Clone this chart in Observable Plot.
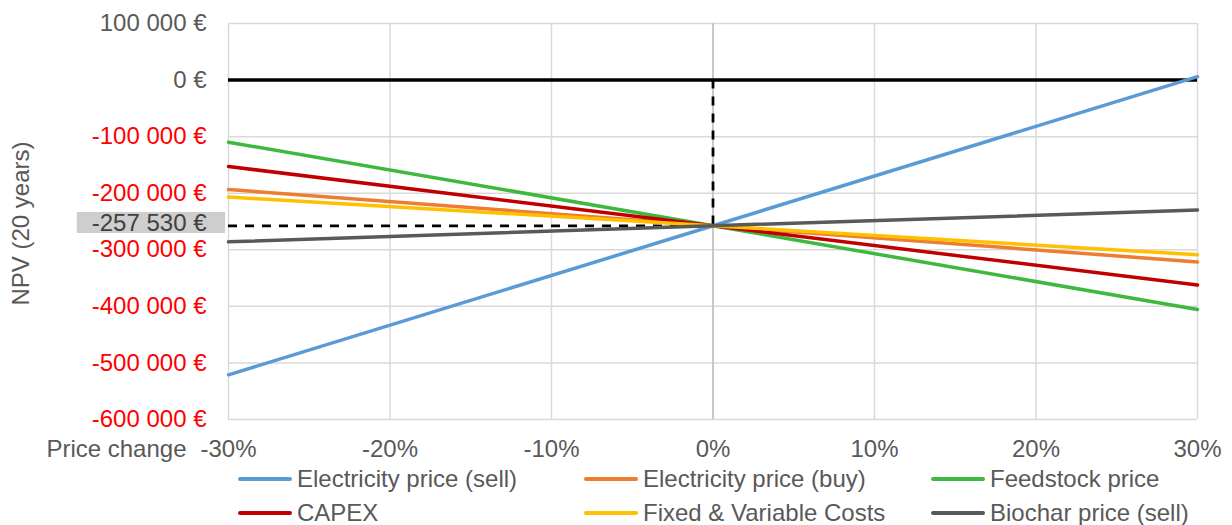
<!DOCTYPE html>
<html>
<head>
<meta charset="utf-8">
<script src="https://cdn.jsdelivr.net/npm/d3@7"></script>
<script src="https://cdn.jsdelivr.net/npm/@observablehq/plot@0.6"></script>
<style>
  html, body { margin: 0; padding: 0; background: #fff; }
  #chart { position: relative; width: 1232px; height: 525px; font-family: "Liberation Sans", Arial, sans-serif; }
  #legend { position: absolute; left: 0; top: 462px; width: 1232px; height: 63px; }
  .item { position: absolute; height: 34px; display: flex; align-items: center; font-size: 24px; color: #595959; white-space: nowrap; }
  .swatch { width: 54px; height: 4px; border-radius: 2px; margin-right: 5px; }
</style>
</head>
<body>
<div id="chart"><div id="legend"></div></div>
<script>
// Price change steps (fraction) and NPV over 20 years for each sensitivity
const changes = [-0.3, 0, 0.3];
const baseNPV = -257530;

const seriesNames = [
  "Electricity price (sell)",
  "Electricity price (buy)",
  "Feedstock price",
  "CAPEX",
  "Fixed & Variable Costs",
  "Biochar price (sell)"
];
const seriesColors = ["#5B9BD5", "#ED7D31", "#3EB83E", "#C00000", "#FFC000", "#595959"];

const elecSell  = [-521000, -257530, 6000];
const elecBuy   = [-193500, -257530, -321500];
const feedstock = [-109800, -257530, -405500];
const capex     = [-152800, -257530, -362400];
const fixedVar  = [-206800, -257530, -308800];
const biochar   = [-286000, -257530, -229800];
const seriesValues = [elecSell, elecBuy, feedstock, capex, fixedVar, biochar];

const xTicks = [-0.3, -0.2, -0.1, 0, 0.1, 0.2, 0.3];
const yTicks = [100000, 0, -100000, -200000, -300000, -400000, -500000, -600000];

const rows = seriesNames.flatMap((name, i) =>
  changes.map((c, j) => ({series: name, change: c, npv: seriesValues[i][j], color: seriesColors[i]}))
);

const locale = d3.formatLocale({decimal: ",", thousands: " ", grouping: [3], currency: ["", " €"], minus: "-"});
const fmtNum = locale.format(",.0f");
const fmtEuro = v => fmtNum(v) + " €";
const fmtPct = v => Math.round(v * 100) + "%";

const grey = "#595959";
const fs = 24;

const chart = Plot.plot({
  width: 1232,
  height: 460,
  marginLeft: 228,
  marginRight: 35,
  marginTop: 23,
  marginBottom: 41,
  style: {fontFamily: "'Liberation Sans', Arial, sans-serif", fontSize: fs + "px", background: "#fff", overflow: "visible"},
  x: {domain: [-0.3, 0.3]},
  y: {domain: [-600000, 100000]},
  color: {type: "identity"},
  marks: [
    Plot.gridY(yTicks, {stroke: "#D9D9D9", strokeOpacity: 1, strokeWidth: 1.5}),
    Plot.gridX(xTicks, {stroke: "#D9D9D9", strokeOpacity: 1, strokeWidth: 1.5}),
    Plot.ruleX([0], {stroke: "#BFBFBF", strokeWidth: 1.5}),
    Plot.ruleY([0], {stroke: "#000", strokeWidth: 3.5}),
    // reference lines to the base case
    Plot.ruleX([{x: 0, y1: 0, y2: baseNPV}], {x: "x", y1: "y1", y2: "y2", stroke: "#000", strokeWidth: 2.75, strokeDasharray: "9,8"}),
    Plot.ruleY([{y: baseNPV, x1: changes[0], x2: 0}], {y: "y", x1: "x1", x2: "x2", stroke: "#000", strokeWidth: 2.75, strokeDasharray: "9,8"}),
    Plot.line(rows, {x: "change", y: "npv", z: "series", stroke: "color", strokeWidth: 3.5, strokeLinecap: "round"}),
    Plot.axisX(xTicks, {tickSize: 0, tickPadding: 20, tickFormat: fmtPct, fill: grey, fontSize: fs, label: null}),
    Plot.axisY(yTicks, {tickSize: 0, tickPadding: 22, tickFormat: fmtEuro, fill: d => d < 0 ? "#FF0000" : grey, fontSize: fs, label: null}),
    Plot.text([baseNPV], {y: d => d, text: d => fmtEuro(d), frameAnchor: "left", dx: -22, dy: -2, textAnchor: "end", fill: "#404040", fontSize: fs}),
    Plot.text(["NPV (20 years)"], {text: d => d, frameAnchor: "left", rotate: -90, dx: -207, dy: 2, textAnchor: "middle", fill: grey, fontSize: fs}),
    Plot.text(["Price change"], {text: d => d, frameAnchor: "bottom-left", dx: -42, dy: 20, textAnchor: "end", lineAnchor: "top", fill: grey, fontSize: fs})
  ]
});

const host = document.getElementById("chart");
host.insertBefore(chart, host.firstChild);

// shaded box behind the base-case value label
const baseLabel = fmtEuro(baseNPV);
chart.querySelectorAll("text").forEach(t => {
  if (t.textContent === baseLabel) {
    const b = t.getBBox();
    const r = document.createElementNS("http://www.w3.org/2000/svg", "rect");
    r.setAttribute("x", b.x - 15);
    r.setAttribute("width", b.width + 33);
    r.setAttribute("y", b.y + 2.5);
    r.setAttribute("height", 21);
    r.setAttribute("fill", "#CFCDCD");
    if (t.getAttribute("transform")) r.setAttribute("transform", t.getAttribute("transform"));
    t.parentNode.insertBefore(r, t);
  }
});

// legend: two rows of three entries
const legend = document.getElementById("legend");
const colX = [238, 584, 931];
seriesNames.forEach((name, i) => {
  const item = document.createElement("div");
  item.className = "item";
  item.style.left = colX[i % 3] + "px";
  item.style.top = (Math.floor(i / 3) * 34) + "px";
  const sw = document.createElement("div");
  sw.className = "swatch";
  sw.style.background = seriesColors[i];
  const label = document.createElement("span");
  label.textContent = name;
  item.appendChild(sw);
  item.appendChild(label);
  legend.appendChild(item);
});
</script>
</body>
</html>
